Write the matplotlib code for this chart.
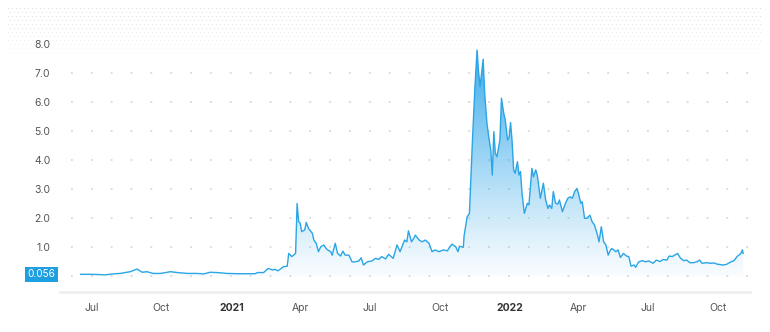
import numpy as np
import pandas as pd
import matplotlib
matplotlib.use("Agg")
import matplotlib.pyplot as plt
import matplotlib.dates as mdates

plt.rcParams['font.family'] = ['Inter', 'DejaVu Sans']

# price trace
dates = ["2020-06-17", "2020-06-30", "2020-07-12", "2020-07-19", "2020-08-01", "2020-08-08",
         "2020-08-21", "2020-08-30", "2020-09-06", "2020-09-12", "2020-09-20", "2020-09-30",
         "2020-10-13", "2020-10-22", "2020-11-04", "2020-11-17", "2020-11-25", "2020-12-04",
         "2020-12-13", "2020-12-26", "2021-01-09", "2021-02-01", "2021-02-04", "2021-02-12",
         "2021-02-18", "2021-02-24", "2021-02-27", "2021-03-03", "2021-03-06", "2021-03-10",
         "2021-03-15", "2021-03-17", "2021-03-21", "2021-03-26", "2021-03-28", "2021-03-30",
         "2021-04-01", "2021-04-03", "2021-04-07", "2021-04-09", "2021-04-12", "2021-04-17",
         "2021-04-19", "2021-04-22", "2021-04-25", "2021-04-28", "2021-05-02", "2021-05-06",
         "2021-05-11", "2021-05-13", "2021-05-17", "2021-05-20", "2021-05-24", "2021-05-27",
         "2021-05-30", "2021-06-04", "2021-06-08", "2021-06-12", "2021-06-17", "2021-06-20",
         "2021-06-23", "2021-06-28", "2021-07-04", "2021-07-09", "2021-07-13", "2021-07-17",
         "2021-07-22", "2021-07-26", "2021-08-01", "2021-08-06", "2021-08-10", "2021-08-16",
         "2021-08-19", "2021-08-21", "2021-08-25", "2021-08-28", "2021-08-30", "2021-09-04",
         "2021-09-08", "2021-09-12", "2021-09-17", "2021-09-21", "2021-09-25", "2021-09-30",
         "2021-10-06", "2021-10-11", "2021-10-17", "2021-10-22", "2021-10-25", "2021-10-27",
         "2021-11-01", "2021-11-02", "2021-11-06", "2021-11-09", "2021-11-13", "2021-11-16",
         "2021-11-19", "2021-11-21", "2021-11-23", "2021-11-27", "2021-11-29", "2021-12-02",
         "2021-12-04", "2021-12-07", "2021-12-09", "2021-12-11", "2021-12-13", "2021-12-15",
         "2021-12-19", "2021-12-21", "2021-12-24", "2021-12-26", "2021-12-29", "2021-12-31",
         "2022-01-02", "2022-01-04", "2022-01-06", "2022-01-08", "2022-01-11", "2022-01-13",
         "2022-01-15", "2022-01-17", "2022-01-20", "2022-01-24", "2022-01-26", "2022-01-30",
         "2022-02-01", "2022-02-04", "2022-02-06", "2022-02-10", "2022-02-14", "2022-02-17",
         "2022-02-20", "2022-02-22", "2022-02-25", "2022-02-27", "2022-03-02", "2022-03-05",
         "2022-03-07", "2022-03-11", "2022-03-15", "2022-03-18", "2022-03-21", "2022-03-24",
         "2022-03-27", "2022-03-30", "2022-04-01", "2022-04-04", "2022-04-06", "2022-04-09",
         "2022-04-12", "2022-04-16", "2022-04-19", "2022-04-22", "2022-04-26", "2022-04-28",
         "2022-05-01", "2022-05-04", "2022-05-07", "2022-05-10", "2022-05-13", "2022-05-15",
         "2022-05-20", "2022-05-23", "2022-05-26", "2022-05-30", "2022-06-03", "2022-06-06",
         "2022-06-09", "2022-06-13", "2022-06-15", "2022-06-19", "2022-06-24", "2022-06-28",
         "2022-07-02", "2022-07-08", "2022-07-12", "2022-07-17", "2022-07-21", "2022-07-26",
         "2022-07-29", "2022-08-02", "2022-08-05", "2022-08-09", "2022-08-13", "2022-08-17",
         "2022-08-21", "2022-08-25", "2022-08-30", "2022-09-04", "2022-09-07", "2022-09-10",
         "2022-09-16", "2022-09-21", "2022-09-26", "2022-09-30", "2022-10-07", "2022-10-12",
         "2022-10-18", "2022-10-22", "2022-10-26", "2022-10-31", "2022-11-02", "2022-11-03"]
prices = [0.06, 0.06, 0.05, 0.04, 0.08, 0.09,
          0.15, 0.24, 0.13, 0.15, 0.09, 0.09,
          0.15, 0.12, 0.09, 0.09, 0.07, 0.13,
          0.12, 0.09, 0.08, 0.08, 0.12, 0.12,
          0.26, 0.21, 0.23, 0.18, 0.24, 0.32,
          0.34, 0.78, 0.67, 0.78, 2.50, 1.87,
          1.82, 1.53, 1.59, 1.85, 1.64, 1.47,
          1.24, 1.13, 0.84, 1.01, 1.07, 0.92,
          0.84, 0.72, 1.13, 0.78, 0.69, 0.86,
          0.72, 0.72, 0.49, 0.49, 0.52, 0.63,
          0.38, 0.49, 0.52, 0.61, 0.57, 0.67,
          0.59, 0.75, 0.61, 1.07, 0.84, 1.24,
          1.18, 1.56, 1.18, 1.30, 1.41, 1.24,
          1.18, 1.24, 1.13, 0.84, 0.90, 0.84,
          0.90, 0.87, 1.10, 1.01, 0.84, 1.03,
          0.99, 1.38, 2.04, 2.16, 4.69, 6.41,
          7.79, 7.04, 6.53, 7.47, 6.30, 5.26,
          4.86, 4.34, 3.48, 4.98, 4.23, 4.11,
          4.69, 6.13, 5.61, 5.38, 4.69, 4.78,
          5.29, 4.63, 3.66, 3.54, 3.94, 3.48,
          3.60, 2.85, 2.16, 2.51, 2.45, 3.71,
          3.42, 3.66, 3.48, 2.68, 3.20, 2.62,
          2.33, 2.45, 2.33, 2.91, 2.51, 2.48,
          2.62, 2.22, 2.51, 2.68, 2.73, 2.68,
          2.91, 3.02, 2.85, 2.51, 2.56, 1.99,
          1.99, 2.10, 1.87, 1.76, 1.41, 1.18,
          1.70, 1.18, 1.07, 0.72, 0.90, 0.95,
          0.84, 0.90, 0.64, 0.78, 0.69, 0.67,
          0.34, 0.38, 0.30, 0.49, 0.53, 0.49,
          0.52, 0.44, 0.55, 0.50, 0.57, 0.55,
          0.69, 0.67, 0.72, 0.78, 0.61, 0.53,
          0.55, 0.46, 0.46, 0.50, 0.55, 0.44,
          0.46, 0.44, 0.45, 0.41, 0.38, 0.40,
          0.49, 0.53, 0.67, 0.78, 0.90, 0.78]

tick_dates = ["2020-07-01", "2020-10-01", "2021-01-01", "2021-04-01", "2021-07-01",
              "2021-10-01", "2022-01-01", "2022-04-01", "2022-07-01", "2022-10-01"]
tick_labels = ["Jul", "Oct", "2021", "Apr", "Jul", "Oct", "2022", "Apr", "Jul", "Oct"]
y_ticks = [1, 2, 3, 4, 5, 6, 7, 8]
start_price = 0.056

x = pd.to_datetime(dates)
xn = mdates.date2num(x)
y = np.array(prices)

line_color = "#2aa5e6"
W, H = 770, 332
fig = plt.figure(figsize=(W / 100, H / 100), dpi=100, facecolor="white")

# dotted band at the top of the card
band_h = 54
band = np.zeros((band_h, W, 4))
band[..., :3] = 0.74
for r in range(8, band_h, 4):
    off = 2 if (r // 4) % 2 else 0
    fade = max(0.0, 1 - (r - 8) / (band_h - 8)) ** 0.6
    band[r, 8 + off:W - 8:4, 3] = 0.55 * fade
fig.figimage(band, xo=0, yo=H - band_h, origin="upper", zorder=0)

ax = fig.add_axes([60 / W, 40 / H, 690 / W, 262 / H])
ax.patch.set_alpha(0)
ax.set_xlim(mdates.datestr2num("2020-05-21"), mdates.datestr2num("2022-11-12"))
ax.set_ylim(-0.55, 8.48)

# dotted horizontal grid
for v in range(0, 8):
    ax.plot([mdates.datestr2num("2020-06-05"), mdates.datestr2num("2022-11-12")], [v, v],
            color="#d9d9d9", lw=1.3, ls=(0, (1, 10)), zorder=1)

# gradient fill under the line
fill = ax.fill_between(xn, y, 0, color="none", lw=0)
grad = np.linspace(0, 1, 256).reshape(-1, 1) ** 1.1
cmap_img = np.zeros((256, 1, 4))
cmap_img[..., 0] = 0.16
cmap_img[..., 1] = 0.64
cmap_img[..., 2] = 0.91
cmap_img[..., 3] = 0.03 + 0.9 * grad
im = ax.imshow(cmap_img, aspect="auto", origin="lower",
               extent=[xn[0], xn[-1], 0, 8.0], zorder=2)
im.set_clip_path(fill.get_paths()[0], transform=ax.transData)

ax.plot(xn, y, color=line_color, lw=1.0, zorder=3)

for s in ["top", "right", "left"]:
    ax.spines[s].set_visible(False)
ax.spines["bottom"].set_color("#efefef")
ax.spines["bottom"].set_linewidth(2)

ax.set_xticks(mdates.datestr2num(tick_dates))
ax.set_xticklabels(tick_labels)
for lab in ax.get_xticklabels():
    if lab.get_text().isdigit():
        lab.set_fontweight("bold")
        lab.set_color("#333333")
    else:
        lab.set_color("#555555")
ax.tick_params(axis="x", length=0, pad=8, labelsize=7.5)

ax.set_yticks(y_ticks)
ax.set_yticklabels(["%.1f" % v for v in y_ticks])
ax.tick_params(axis="y", length=0, pad=7, labelsize=7.5, labelcolor="#555555")

ax.text(-0.007, start_price, "%.3f" % start_price, transform=ax.get_yaxis_transform(),
        ha="right", va="center", fontsize=7.2, color="white",
        bbox=dict(boxstyle="square,pad=0.25", fc="#1e9fe0", ec="none"))

fig.savefig("out.png", dpi=100)
